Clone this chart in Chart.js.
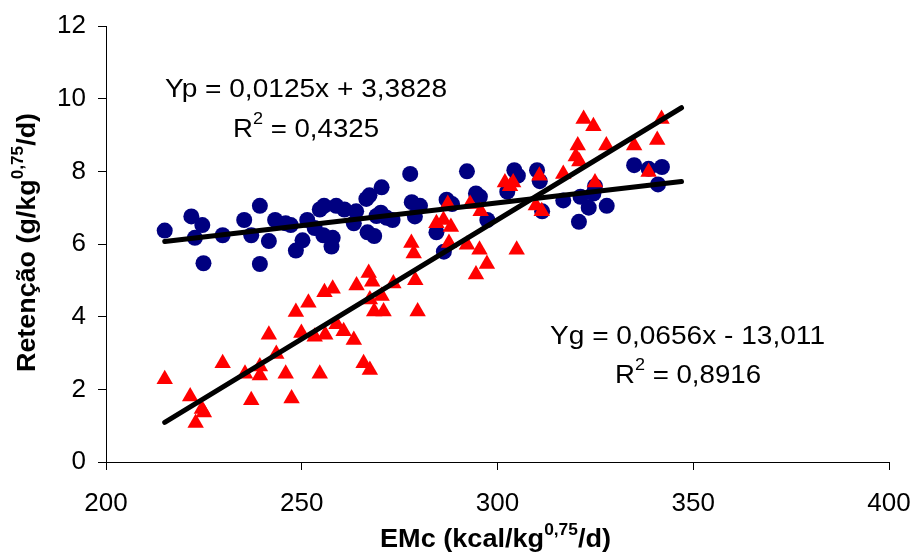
<!DOCTYPE html>
<html>
<head>
<meta charset="utf-8">
<script src="https://cdn.jsdelivr.net/npm/chart.js@4.4.1/dist/chart.umd.min.js"></script>
<style>
  html, body { margin: 0; padding: 0; background: #fff; }
  #wrap { width: 912px; height: 553px; }
</style>
</head>
<body>
<div id="wrap"><canvas id="chart" width="912" height="553"></canvas></div>
<script>
// Yp (circles)
const ypX = [215, 221.8, 222.7, 224.6, 224.9, 229.8, 235.3, 237.1, 239.3, 239.3, 241.6, 243.2, 245.9, 247.2, 248.5,
  250.2, 251.4, 253.3, 254.6, 255.5, 255.7, 257.6, 257.9, 258.8, 260.9, 263.3, 263.9, 266.5, 267.3, 266.8,
  268.5, 269.1, 270.2, 270.4, 271.7, 273.2, 277.7, 278.1, 278.9, 280.2, 284.4, 286.3, 287, 288.4, 292.2,
  294.5, 295.5, 297.4, 302.5, 304.3, 305.2, 310.1, 310.8, 311.4, 316.8, 320.8, 321.2, 323.3, 324.5, 324.9,
  327.9, 334.9, 338.6, 341, 342];
const ypY = [6.37, 6.76, 6.17, 6.52, 5.47, 6.24, 6.66, 6.24, 7.05, 5.45, 6.08, 6.66, 6.57, 6.52, 5.82,
  6.1, 6.66, 6.44, 6.95, 6.24, 7.05, 5.93, 6.17, 7.05, 6.95, 6.57, 6.9, 7.24, 7.34, 6.32,
  6.22, 6.77, 6.86, 7.56, 6.72, 6.66, 7.93, 7.15, 6.76, 7.05, 6.32, 5.79, 7.22, 7.1, 8.0,
  7.39, 7.3, 6.66, 7.44, 8.03, 7.88, 8.03, 7.73, 6.9, 7.2, 6.61, 7.3, 7.0, 7.39, 7.59,
  7.05, 8.17, 8.07, 7.64, 8.12];

// Yg (triangles)
const ygX = [215, 221.5, 222.9, 224.5, 225, 229.8, 235.5, 237.1, 239.3, 239.3, 241.6, 243.5, 245.9, 247.4, 248.5,
  249.9, 251.7, 253.3, 254.6, 255.8, 256, 257.9, 258.9, 260.7, 263.3, 264, 265.8, 267.1, 267.4, 267.4,
  268, 268.5, 270.4, 270.9, 273.4, 278, 278.6, 279, 279.6, 284.4, 286.2, 287.3, 288.1, 287.6, 292.2,
  293, 294.5, 295.4, 295.7, 297.3, 301.9, 303.2, 304, 304.9, 309.8, 310.7, 311.3, 316.8, 320, 320.5,
  320.9, 322, 324.5, 324.9, 327.8, 334.9, 338.6, 340.8, 341.9];
const ygY = [2.28, 1.8, 1.07, 1.46, 1.36, 2.72, 2.43, 1.7, 2.38, 2.63, 3.5, 2.97, 2.43, 1.75, 4.13,
  3.55, 4.38, 3.45, 2.43, 4.67, 3.5, 4.77, 3.79, 3.6, 3.36, 4.86, 2.72, 5.2, 2.53, 4.47,
  4.96, 4.14, 4.57, 4.14, 4.91, 6.03, 5.74, 5.0, 4.14, 6.57, 6.66, 7.1, 6.47, 6.03, 5.98,
  7.1, 5.16, 5.84, 6.9, 5.45, 7.69, 7.59, 7.69, 5.84, 7.06, 7.88, 6.9, 7.93, 8.41, 8.71,
  8.27, 9.44, 9.24, 7.69, 8.71, 8.71, 7.98, 8.86, 9.44];

// trend line end points
const trendX = [215, 347];
const trendYp = [6.07, 7.72];
const trendYg = [1.09, 9.75];

const xTicks = [200, 250, 300, 350, 400];
const yTicks = [0, 2, 4, 6, 8, 10, 12];

const pts = (xs, ys) => xs.map((x, i) => ({ x: x, y: ys[i] }));

const FONT = "'Liberation Sans', Arial, sans-serif";

// draws text pieces with superscripts, stretched to a given width
function richText(ctx, parts, size, bold, targetW) {
  const w = bold ? 'bold ' : '';
  const supSize = Math.round(size * 0.65);
  let total = 0;
  parts.forEach(p => {
    ctx.font = w + (p.sup ? supSize : size) + 'px ' + FONT;
    p.w = ctx.measureText(p.t).width;
    total += p.w;
  });
  const sx = targetW ? targetW / total : 1;
  ctx.save();
  ctx.scale(sx, 1);
  let cx = 0;
  parts.forEach(p => {
    ctx.font = w + (p.sup ? supSize : size) + 'px ' + FONT;
    ctx.fillText(p.t, cx, p.sup ? -size * 0.5 : 0);
    cx += p.w;
  });
  ctx.restore();
}

const labelsPlugin = {
  id: 'labels',
  afterDraw(chart) {
    const ctx = chart.ctx;
    ctx.save();
    ctx.fillStyle = '#000';
    ctx.textBaseline = 'alphabetic';
    ctx.textAlign = 'left';

    // equations
    const notes = [
      { x: 165, y: 97, w: 282, parts: [{ t: 'Yp = 0,0125x + 3,3828' }] },
      { x: 233, y: 137, w: 146, parts: [{ t: 'R' }, { t: '2', sup: true }, { t: ' = 0,4325' }] },
      { x: 550, y: 344, w: 275, parts: [{ t: 'Yg = 0,0656x - 13,011' }] },
      { x: 615, y: 383, w: 146, parts: [{ t: 'R' }, { t: '2', sup: true }, { t: ' = 0,8916' }] }
    ];
    notes.forEach(n => {
      ctx.save();
      ctx.translate(n.x, n.y);
      richText(ctx, n.parts, 26, false, n.w);
      ctx.restore();
    });

    // x title
    ctx.save();
    ctx.translate(380, 547);
    richText(ctx, [{ t: 'EMc (kcal/kg' }, { t: '0,75', sup: true }, { t: '/d)' }], 25, true, 231);
    ctx.restore();

    // y title
    ctx.save();
    ctx.translate(35, 372);
    ctx.rotate(-Math.PI / 2);
    richText(ctx, [{ t: 'Retenção (g/kg' }, { t: '0,75', sup: true }, { t: '/d)' }], 25, true, 259);
    ctx.restore();

    ctx.restore();
  }
};

const ctx = document.getElementById('chart').getContext('2d');
const chart = new Chart(ctx, {
  type: 'scatter',
  data: {
    datasets: [
      {
        label: 'Yp trend',
        type: 'line',
        data: pts(trendX, trendYp),
        borderColor: '#000',
        borderWidth: 5,
        borderCapStyle: 'round',
        pointRadius: 0,
        fill: false,
        order: 0
      },
      {
        label: 'Yg trend',
        type: 'line',
        data: pts(trendX, trendYg),
        borderColor: '#000',
        borderWidth: 5,
        borderCapStyle: 'round',
        pointRadius: 0,
        fill: false,
        order: 0
      },
      {
        label: 'Yg',
        data: pts(ygX, ygY),
        pointStyle: 'triangle',
        pointRadius: 9.5,
        pointHoverRadius: 9.5,
        backgroundColor: '#FF0000',
        borderColor: '#FF0000',
        borderWidth: 0,
        order: 1
      },
      {
        label: 'Yp',
        data: pts(ypX, ypY),
        pointStyle: 'circle',
        pointRadius: 8,
        pointHoverRadius: 8,
        backgroundColor: '#000080',
        borderColor: '#000080',
        borderWidth: 0,
        order: 2
      }
    ]
  },
  options: {
    responsive: false,
    animation: false,
    layout: { padding: { left: 0, right: 23, top: 26, bottom: 0 } },
    plugins: {
      legend: { display: false },
      tooltip: { enabled: false },
      title: { display: false }
    },
    scales: {
      x: {
        type: 'linear',
        min: 200,
        max: 400,
        afterFit: s => { s.height = 91; s.paddingLeft = 0; s.paddingRight = 0; },
        afterBuildTicks: s => { s.ticks = xTicks.map(v => ({ value: v })); },
        grid: { drawOnChartArea: false, drawTicks: true, tickLength: 8, color: '#000' },
        border: { display: true, color: '#000', width: 1 },
        ticks: {
          color: '#000',
          font: { family: FONT, size: 26 },
          padding: 18,
          maxRotation: 0
        }
      },
      y: {
        type: 'linear',
        min: 0,
        max: 12,
        afterFit: s => { s.width = 106; s.paddingTop = 0; s.paddingBottom = 0; },
        afterBuildTicks: s => { s.ticks = yTicks.map(v => ({ value: v })); },
        grid: { drawOnChartArea: false, drawTicks: true, tickLength: 8, color: '#000' },
        border: { display: true, color: '#000', width: 1 },
        ticks: {
          color: '#000',
          font: { family: FONT, size: 26 },
          padding: 12
        }
      }
    }
  },
  plugins: [labelsPlugin]
});
</script>
</body>
</html>
